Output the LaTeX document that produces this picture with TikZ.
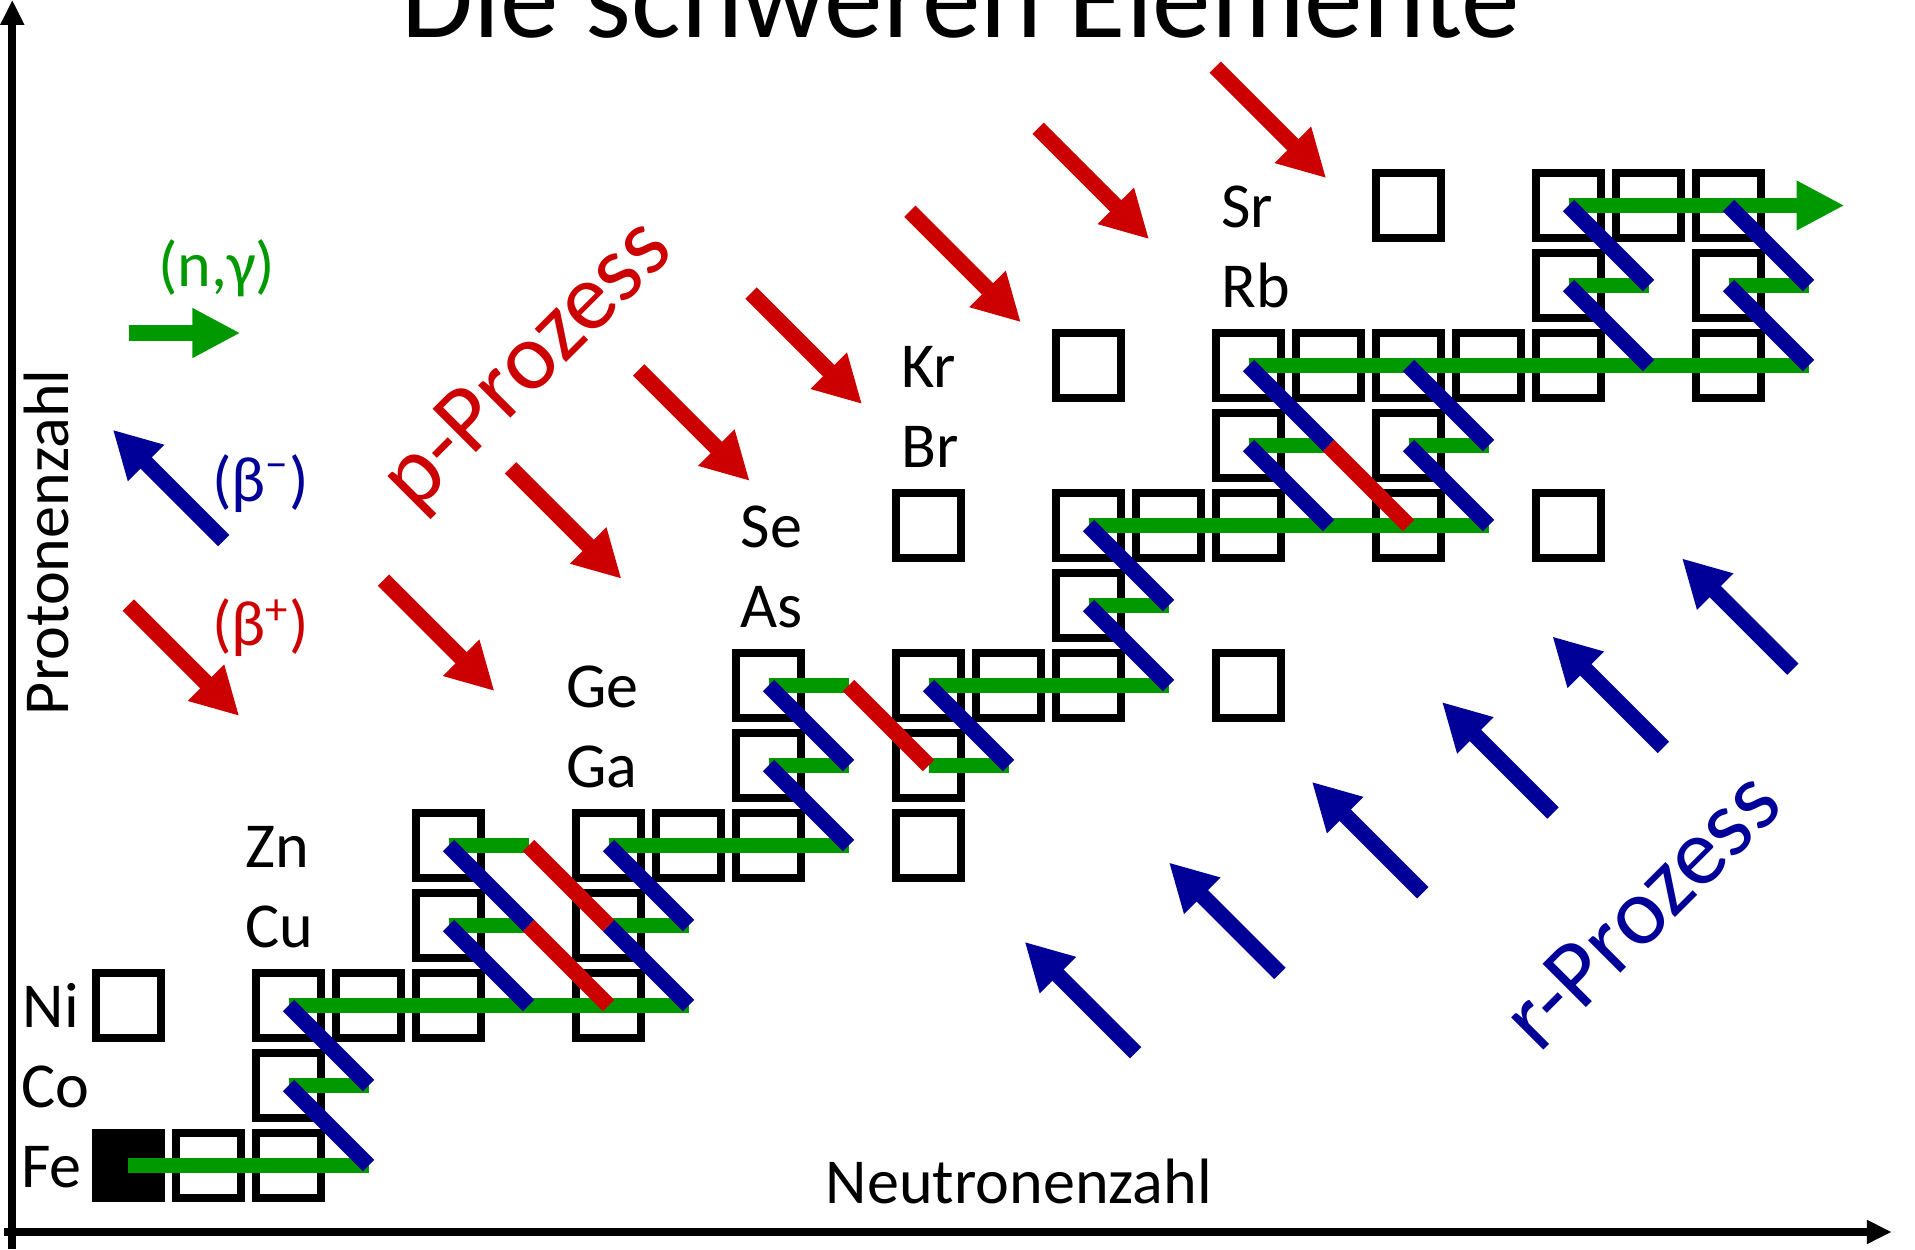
\documentclass[tikz,border=0pt]{standalone}
\usepackage{fontspec}
\setmainfont{Carlito}
\usetikzlibrary{arrows.meta}
\definecolor{ngreen}{RGB}{0,153,0}
\definecolor{bblue}{RGB}{0,0,153}
\definecolor{pred}{RGB}{204,0,0}
\begin{document}
\begin{tikzpicture}[x=1cm,y=1cm,
  iso/.style={draw=black, line width=0.1cm, minimum size=0.8125cm, inner sep=0pt, outer sep=0pt},
  isofill/.style={iso, fill=black},
  lab/.style={inner sep=0pt, font=\fontsize{22.8}{27}\selectfont},
  ncap/.style={draw=ngreen, line width=0.19cm},
  bdec/.style={draw=bblue, line width=0.2cm},
  rdec/.style={draw=pred, line width=0.2cm},
  axis/.style={draw=black, line width=0.1cm, -{Triangle[length=0.31cm,width=0.28cm]}},
  parr/.style={draw=pred, line width=0.2cm, -{Triangle[length=0.59cm,width=0.6cm]}},
  rarr/.style={draw=bblue, line width=0.2cm, -{Triangle[length=0.59cm,width=0.6cm]}},
  garr/.style={draw=ngreen, line width=0.19cm, -{Triangle[length=0.6cm,width=0.58cm]}},
  proc/.style={inner sep=0pt, rotate=45, font=\fontsize{34}{40}\selectfont}
]
\useasboundingbox (-1.60625,-1.04375) rectangle (22.33125,14.56875);

% grid coordinates
\foreach \c in {0,...,21} {
  \foreach \r in {0,...,12} {
    \coordinate (g\c-\r) at (\c,\r);
  }
}

% title
\node[anchor=base, inner sep=0pt, font=\fontsize{41.7}{50}\selectfont] (title) at (10.406,14.094) {Die schweren Elemente};

% axes
\coordinate (yaxs) at (-1.4525,-1.044);
\coordinate (yaxe) at (-1.4525,14.569);
\coordinate (xaxs) at (-1.556,-0.831);
\coordinate (xaxe) at (22.04,-0.831);
\draw[axis] (yaxs) -- (yaxe);
\draw[axis] (xaxs) -- (xaxe);
\node[lab, anchor=base] (xlab) at (11.13,-0.469) {Neutronenzahl};
\node[lab, rotate=90, anchor=base] (ylab) at (-0.75,7.79) {Protonenzahl};

% isotope boxes
\node[isofill] (b0-0) at (g0-0) {};
\foreach \c/\r in {1/0,2/0, 2/1, 0/2,2/2,3/2,4/2,6/2, 4/3,6/3, 4/4,6/4,7/4,8/4,10/4,
  8/5,10/5, 8/6,10/6,11/6,12/6,14/6, 12/7, 10/8,12/8,13/8,14/8,16/8,18/8,
  14/9,16/9, 12/10,14/10,15/10,16/10,17/10,18/10,20/10, 18/11,20/11,
  16/12,18/12,19/12,20/12} {
  \node[iso] (b\c-\r) at (g\c-\r) {};
}

% element labels
\foreach \name/\x/\r in {Fe/-1.35/0, Co/-1.35/1, Ni/-1.33/2, Cu/1.456/3, Zn/1.456/4,
  Ga/5.4625/5, Ge/5.4625/6, As/7.644/7, Se/7.644/8, Br/9.656/9, Kr/9.656/10,
  Rb/13.656/11, Sr/13.656/12} {
  \node[lab, anchor=base west] (l\name) at (\x,\r-0.27) {\name};
}

% (n,gamma) path segments
\foreach \c/\r in {0/0,1/0,2/0, 2/1, 2/2,3/2,4/2,5/2,6/2, 4/3,6/3, 4/4,6/4,7/4,8/4,
  8/5,10/5, 8/6,10/6,11/6,12/6, 12/7, 12/8,13/8,14/8,15/8,16/8, 14/9,16/9,
  14/10,15/10,16/10,17/10,18/10,19/10,20/10, 18/11,20/11, 18/12,19/12} {
  \pgfmathtruncatemacro\cn{\c+1}
  \draw[ncap] (g\c-\r) -- (g\cn-\r);
}
\coordinate (gend) at (21.45,12);
\draw[garr] (g20-12) -- (gend);

% beta- decays
\foreach \c/\r in {3/0,3/1,5/2,5/3,7/2,7/3,9/4,9/5,11/5,13/6,13/7,15/8,15/9,17/8,17/9,
  19/10,19/11,21/10,21/11} {
  \pgfmathtruncatemacro\cn{\c-1}
  \pgfmathtruncatemacro\rn{\r+1}
  \draw[bdec] (g\c-\r) -- (g\cn-\rn);
}

% beta+ decays
\foreach \c/\r in {5/4,5/3,9/6,15/9} {
  \pgfmathtruncatemacro\cn{\c+1}
  \pgfmathtruncatemacro\rn{\r-1}
  \draw[rdec] (g\c-\r) -- (g\cn-\rn);
}

% legend
\coordinate (lgs) at (0.0025,10.406);
\coordinate (lge) at (1.4,10.406);
\draw[garr] (lgs) -- (lge);
\node[lab, anchor=base, text=ngreen] (lng) at (1.104,10.99) {(n,γ)};
\coordinate (lbs) at (1.191,7.81);
\coordinate (lbe) at (-0.1965,9.1975);
\draw[rarr] (lbs) -- (lbe);
\node[lab, anchor=base, text=bblue] (lbm) at (1.65,8.306) {(β\textsuperscript{−})};
\coordinate (lrs) at (-0.0025,7.006);
\coordinate (lre) at (1.385,5.6185);
\draw[parr] (lrs) -- (lre);
\node[lab, anchor=base, text=pred] (lbp) at (1.65,6.494) {(β\textsuperscript{+})};

% p-process arrows
\foreach \i/\x/\y in {1/3.1875/7.3175, 2/4.775/8.721, 3/6.3775/9.944, 4/7.7825/10.905,
  5/9.7675/11.9275, 6/11.37/12.966, 7/13.584/13.729} {
  \coordinate (ps\i) at (\x,\y);
  \coordinate (pe\i) at (\x+1.3875,\y-1.3875);
  \draw[parr] (ps\i) -- (pe\i);
}
\node[proc, text=pred] (pproc) at (5.0125,9.98) {p-Prozess};

% r-process arrows
\foreach \i/\x/\y in {1/12.589/1.409, 2/14.3925/2.401, 3/16.179/3.409, 4/17.806/4.406,
  5/19.186/5.226, 6/20.805/6.2025} {
  \coordinate (rs\i) at (\x,\y);
  \coordinate (re\i) at (\x-1.3875,\y+1.3875);
  \draw[rarr] (rs\i) -- (re\i);
}
\node[proc, text=bblue] (rproc) at (18.906,3.194) {r-Prozess};
\end{tikzpicture}
\end{document}
